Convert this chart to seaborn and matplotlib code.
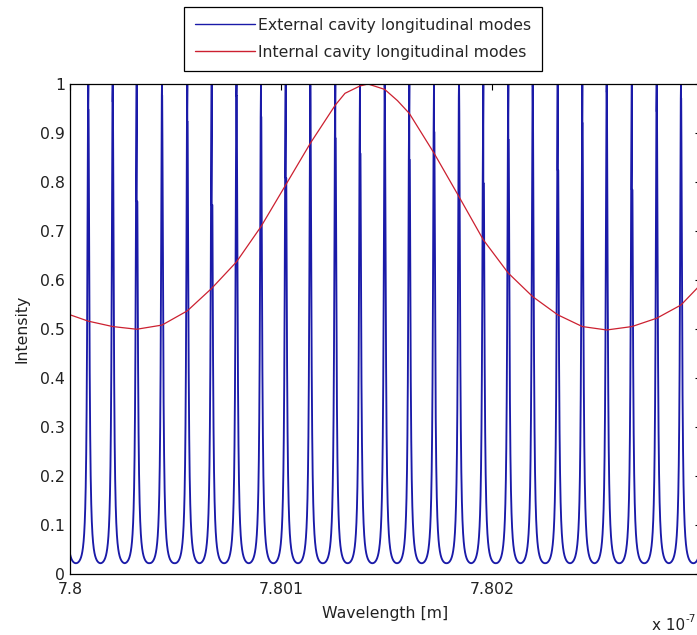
import numpy as np
import pandas as pd
import matplotlib
matplotlib.use("Agg")
import matplotlib.pyplot as plt
import seaborn as sns

# ---------------- data ----------------
# wavelengths in nm
x_min_nm = 780.0
x_max_nm = 780.29905

# external cavity: resonance (peak) wavelengths, nm
ext_peak_nm = [780.00867, 780.02024, 780.03161, 780.04360, 780.05559, 780.06716,
               780.07891, 780.09052, 780.10223, 780.11389, 780.12573, 780.13744,
               780.14915, 780.16081, 780.17251, 780.18436, 780.19588, 780.20773,
               780.21929, 780.23114, 780.24280, 780.25436, 780.26626, 780.27806,
               780.28957]
# apparent height of the drawn peak shoulder (dark part of each spike)
ext_shoulder = [0.947, 0.964, 0.760, 0.977, 0.923, 0.753, 0.976, 0.933, 0.808,
                0.995, 0.889, 0.858, 0.995, 0.845, 0.902, 0.991, 0.797, 0.886,
                0.995, 0.824, 0.920, 0.984, 0.784, 0.944, 0.971]
ext_apex = 1.0
ext_floor = 0.022   # minimum between modes

# internal cavity curve, read point by point
int_x_nm = [780.0, 780.00867, 780.02024, 780.03161, 780.04360, 780.05559,
            780.06716, 780.07891, 780.09052, 780.10223, 780.11389, 780.12573,
            780.13033, 780.13744, 780.14123, 780.14915, 780.15521, 780.16081,
            780.17251, 780.18436, 780.19588, 780.20773, 780.21929, 780.23114,
            780.24280, 780.25436, 780.26635, 780.27806, 780.28957, 780.29716,
            780.29905]
int_y = [0.529, 0.516, 0.505, 0.4995, 0.508, 0.537,
         0.583, 0.637, 0.709, 0.794, 0.879, 0.957,
         0.981, 0.996, 1.000, 0.989, 0.966, 0.940,
         0.859, 0.770, 0.682, 0.614, 0.566, 0.529,
         0.505, 0.498, 0.505, 0.522, 0.549, 0.583,
         0.592]

y_ticks = [0, 0.1, 0.2, 0.3, 0.4, 0.5, 0.6, 0.7, 0.8, 0.9, 1]
y_tick_labels = ["0", "0.1", "0.2", "0.3", "0.4", "0.5", "0.6", "0.7", "0.8", "0.9", "1"]
x_ticks_nm = [780.0, 780.1, 780.2]
x_tick_labels = ["7.8", "7.801", "7.802"]

series_names = ["External cavity longitudinal modes", "Internal cavity longitudinal modes"]

# ---------------- build external-cavity trace (Airy profile) ----------------
centers = np.array(ext_peak_nm)
shoulder = np.array(ext_shoulder)
fsr = np.mean(np.diff(centers))
Fc = 1.0 / ext_floor - 1.0
all_c = np.concatenate([[centers[0] - fsr], centers, [centers[-1] + fsr]])

xs = np.linspace(x_min_nm, x_max_nm, 9000)
k = np.abs(xs[:, None] - all_c[None, :]).argmin(axis=1)
d = xs - all_c[k]
ys = 1.0 / (1.0 + Fc * np.sin(np.pi * d / fsr) ** 2)
w_sh = fsr / np.pi * np.arcsin(np.sqrt((1.0 / shoulder - 1.0) / Fc))
w_all = np.concatenate([[0.0], w_sh, [0.0]])
keep = np.abs(d) >= w_all[k]
px = list(xs[keep]); py = list(ys[keep])
for c, h, ww in zip(centers, shoulder, w_sh):
    px += [c - ww, c, c + 1e-9 * 0, c + ww]
    py += [h, ext_apex, h, h]
idx = np.argsort(np.array(px), kind="stable")
ext_df = pd.DataFrame({"wl": np.array(px)[idx] * 1e-9, "I": np.array(py)[idx]})
int_df = pd.DataFrame({"wl": np.array(int_x_nm) * 1e-9, "I": int_y})

# ---------------- figure ----------------
sns.set_style("white")
plt.rcParams["font.family"] = ["DejaVu Sans"]
plt.rcParams["font.size"] = 11.3

W, H = 697, 635
fig = plt.figure(figsize=(W / 100, H / 100), dpi=100)
ax = fig.add_axes([70 / W, (H - 574) / H, (701 - 70) / W, (574 - 84) / H])
ax.set_facecolor("white")

blue = "#1a1aa8"
red = "#cc2030"
sns.lineplot(data=ext_df, x="wl", y="I", sort=False, estimator=None, ax=ax,
             color=blue, lw=1.35, label=series_names[0])
sns.lineplot(data=int_df, x="wl", y="I", sort=False, estimator=None, ax=ax,
             color=red, lw=0.9, label=series_names[1])

ax.set_xlim(x_min_nm * 1e-9, x_max_nm * 1e-9)
ax.set_ylim(0, 1)
ax.set_xticks([v * 1e-9 for v in x_ticks_nm])
ax.set_xticklabels(x_tick_labels)
ax.set_yticks(y_ticks)
ax.set_yticklabels(y_tick_labels)
ax.tick_params(direction="in", length=4.3, width=0.8, color="black",
               top=True, right=True, labelsize=11.3, labelcolor="#222222")
ax.tick_params(axis="x", pad=6)
ax.tick_params(axis="y", pad=3.5)
for s in ax.spines.values():
    s.set_visible(True)
    s.set_color("black")
    s.set_linewidth(0.9)

ax.set_xlabel("Wavelength [m]", fontsize=11.3, labelpad=6, color="#222222")
ax.set_ylabel("Intensity", fontsize=11.3, labelpad=8, color="#222222")

fig.text(652 / W, (H - 630) / H, "x 10", fontsize=11, ha="left", va="baseline",
         color="#222222")
fig.text(686 / W, (H - 622) / H, "-7", fontsize=7.5, ha="left", va="baseline",
         color="#222222")

leg = ax.legend(loc="upper left", bbox_to_anchor=(184 / W, 1 - 7 / H),
                bbox_transform=fig.transFigure, borderaxespad=0,
                fancybox=False, framealpha=1, edgecolor="black",
                fontsize=11.3, handlelength=3.8, handletextpad=0.2,
                labelspacing=0.75, borderpad=0.7)
leg.get_frame().set_linewidth(0.9)
for ln in leg.get_lines():
    ln.set_linewidth(1.0)

fig.savefig("out.png", dpi=100, facecolor="white")
